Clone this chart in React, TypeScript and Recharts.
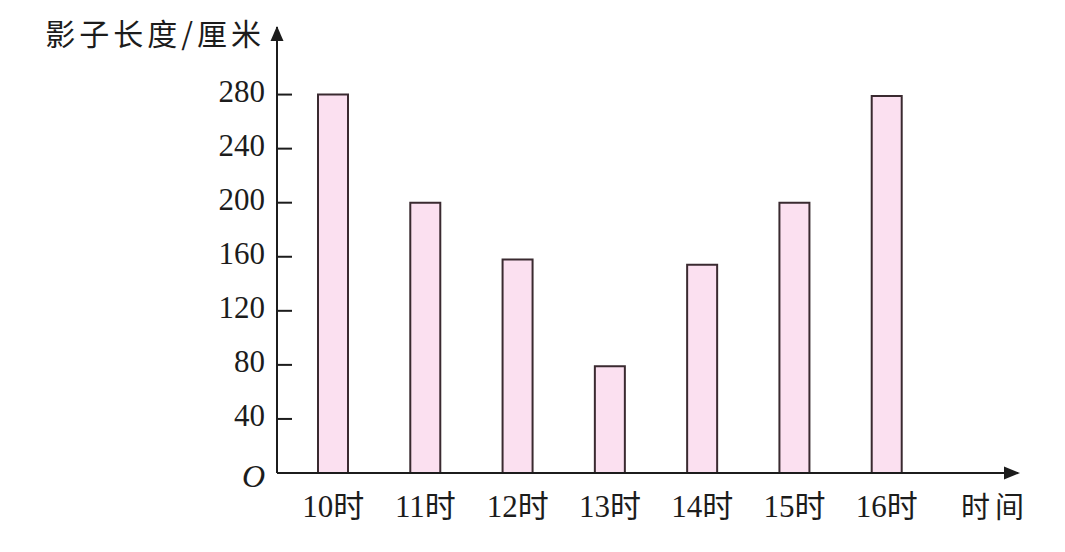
import { Bar, BarChart, XAxis, YAxis } from "recharts";

const hours = ["10时", "11时", "12时", "13时", "14时", "15时", "16时"];
const shadowLengths = [280, 200, 158, 79, 154, 200, 279];
const yTicks = [0, 40, 80, 120, 160, 200, 240, 280];
const yTitle = "影子长度/厘米";
const xTitle = "时间";

const data = hours.map((hour, i) => ({ hour, length: shadowLengths[i] }));

const FONT = "'Liberation Serif', 'Noto Sans CJK SC', serif";
const CJK = "'Noto Sans CJK SC', sans-serif";
const INK = "#1c1c1c";

function YTick(props: any) {
  const { x, y, payload } = props;
  if (payload.value === 0) {
    return (
      <text x={x - 12} y={y + 14} textAnchor="end" fontFamily={FONT} fontStyle="italic" fontSize={32} fill={INK}>
        O
      </text>
    );
  }
  return (
    <g>
      <line x1={x} y1={y} x2={x + 15} y2={y} stroke={INK} strokeWidth={2} />
      <text x={x - 12} y={y + 7} textAnchor="end" fontFamily={FONT} fontSize={31} fill={INK}>
        {payload.value}
      </text>
    </g>
  );
}

function XTick(props: any) {
  const { x, y, payload } = props;
  return (
    <text x={x} y={y + 44} textAnchor="middle" fontFamily={FONT} fontSize={31} fill={INK}>
      {payload.value}
    </text>
  );
}

function YArrow(props: any) {
  const { viewBox } = props;
  const ax = viewBox.x + viewBox.width;
  const top = viewBox.y;
  return (
    <g>
      <polygon points={`${ax},${top - 1} ${ax - 6.5},${top + 14} ${ax + 6.5},${top + 14}`} fill={INK} />
      <text x={ax - 12} y={top + 18} textAnchor="end" fontFamily={CJK} fontSize={30} letterSpacing={4} fill={INK}>
        {yTitle}
      </text>
    </g>
  );
}

function XArrow(props: any) {
  const { viewBox } = props;
  const end = viewBox.x + viewBox.width;
  const ay = viewBox.y;
  return (
    <g>
      <polygon points={`${end + 2},${ay} ${end - 14},${ay - 6.5} ${end - 14},${ay + 6.5}`} fill={INK} />
      <text x={end - 23} y={ay + 45} textAnchor="middle" fontFamily={CJK} fontSize={29} letterSpacing={5} fill={INK}>
        {xTitle}
      </text>
    </g>
  );
}

export default function App() {
  return (
    <div style={{ position: "absolute", left: 0, top: 0, background: "#fff" }}>
      <BarChart
        width={1065}
        height={552}
        data={data}
        margin={{ top: 27, right: 47, left: 197, bottom: 19 }}
      >
        <XAxis
          dataKey="hour"
          tickLine={false}
          tickSize={0}
          tickMargin={0}
          height={60}
          interval={0}
          padding={{ left: 10, right: 85 }}
          axisLine={{ stroke: INK, strokeWidth: 2 }}
          tick={<XTick />}
          label={<XArrow />}
        />
        <YAxis
          type="number"
          domain={[0, 330]}
          ticks={yTicks}
          width={80}
          tickLine={false}
          tickSize={0}
          tickMargin={0}
          axisLine={{ stroke: INK, strokeWidth: 2 }}
          tick={<YTick />}
          label={<YArrow />}
        />
        <Bar
          dataKey="length"
          barSize={30}
          fill="#fbe0f0"
          stroke="#3a2a30"
          strokeWidth={2}
          isAnimationActive={false}
        />
      </BarChart>
    </div>
  );
}
